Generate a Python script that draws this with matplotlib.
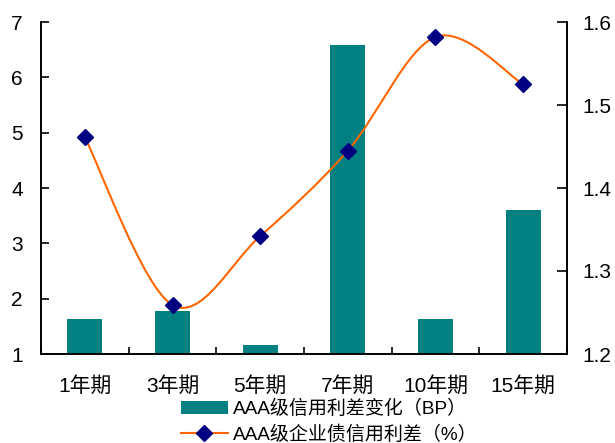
import numpy as np
import matplotlib.pyplot as plt
from matplotlib.path import Path
from matplotlib.patches import PathPatch
from matplotlib.lines import Line2D
from matplotlib.patches import Patch

plt.rcParams['font.family'] = ['Liberation Sans', 'Noto Sans CJK SC', 'DejaVu Sans']
plt.rcParams['font.size'] = 12.5

terms = ['1年期', '3年期', '5年期', '7年期', '10年期', '15年期']
spread_change_bp = [1.63, 1.78, 1.17, 6.58, 1.63, 3.61]
spread_pct = [1.461, 1.259, 1.342, 1.445, 1.582, 1.525]

bar_color = '#008080'
line_color = '#FF6600'
marker_color = '#000080'


def smooth_path(xs, ys, width, height):
    # bezier curve through the points, control points taken like a cardinal spline
    p = np.column_stack([np.asarray(xs) * width, np.asarray(ys) * height])
    verts = [tuple(p[0])]
    codes = [Path.MOVETO]
    n = len(p)
    for i in range(n - 1):
        prev = p[i - 1] if i > 0 else p[i]
        nxt = p[i + 2] if i + 2 < n else p[i + 1]
        c1 = p[i] + (p[i + 1] - prev) / 6
        c2 = p[i + 1] - (nxt - p[i]) / 6
        verts += [tuple(c1), tuple(c2), tuple(p[i + 1])]
        codes += [Path.CURVE4] * 3
    verts = np.array(verts) / [width, height]
    return Path(verts, codes)


fig = plt.figure(figsize=(6.15, 4.43), dpi=100)
ax = fig.add_axes([41 / 615, 1 - 354 / 443, 526 / 615, 332 / 443])
ax2 = ax.twinx()

x = np.arange(len(terms))
ax.bar(x, spread_change_bp, width=0.4, color=bar_color, bottom=0,
       zorder=2)
ax.set_xlim(-0.5, len(terms) - 0.5)
ax.set_ylim(1, 7)
ax.set_yticks(range(1, 8))
ax2.set_ylim(1.2, 1.6)
ax2.set_yticks([1.2, 1.3, 1.4, 1.5, 1.6])
ax2.set_yticklabels(['1.2', '1.3', '1.4', '1.5', '1.6'])

# smoothed line drawn in axes coordinates, scaled to the axes' pixel size
xf = (x + 0.5) / len(terms)
yf = (np.array(spread_pct) - 1.2) / 0.4
path = smooth_path(xf, yf, 526, 332)
ax2.add_patch(PathPatch(path, transform=ax2.transAxes, facecolor='none',
                        edgecolor=line_color, lw=1.5, zorder=3))
ax2.plot(x, spread_pct, ls='none', marker='D', ms=8, color=marker_color,
         zorder=4)

for a in (ax, ax2):
    a.spines['top'].set_visible(False)
    for s in ('left', 'right', 'bottom'):
        a.spines[s].set_linewidth(1.2)

ax.set_xticks(x)
ax.set_xticklabels(terms, fontsize=15)
ax.set_xticks(np.arange(-0.5, len(terms)), minor=True)
ax.tick_params(axis='x', which='major', length=0, pad=16)
ax.tick_params(axis='x', which='minor', direction='in', length=5, width=1.2)
ax.tick_params(axis='y', direction='in', length=6, width=1.2, pad=13,
               labelsize=15)
ax2.tick_params(axis='y', direction='in', length=7, width=1.2, pad=11,
                labelsize=15)

handles = [Patch(facecolor=bar_color, edgecolor='none'),
           Line2D([], [], color=line_color, lw=1.5, marker='D', ms=8,
                  markerfacecolor=marker_color, markeredgecolor=marker_color)]
labels = ['AAA级信用利差变化（BP）', 'AAA级企业债信用利差（%）']
fig.legend(handles, labels, loc='upper left', bbox_to_anchor=(181 / 615, 1 - 400 / 443),
           frameon=False, borderpad=0, borderaxespad=0, handlelength=2.45,
           handleheight=0.62, handletextpad=0.26, labelspacing=0.35, fontsize=13.7)

fig.savefig('out.png', dpi=100)
